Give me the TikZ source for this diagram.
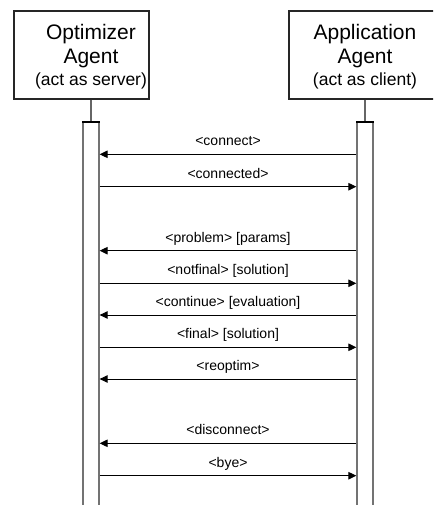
\documentclass[tikz,border=0pt]{standalone}
\usepackage{fontspec}
\setmainfont{Liberation Sans}
\usetikzlibrary{arrows.meta,positioning}

\begin{document}
\begin{tikzpicture}[x=1pt, y=-1pt, >={Triangle[length=8pt,width=7.5pt]},
  agent/.style={draw=black!85, line width=1.2pt, inner sep=0pt},
  agentname/.style={align=center, inner sep=0pt, font=\fontsize{21}{24}\selectfont},
  actbar/.style={draw=black!55, line width=1.3pt, inner sep=0pt, minimum width=16pt, minimum height=395pt, anchor=north},
  life/.style={draw=black!60, line width=1.4pt},
  msg/.style={->, line width=0.9pt},
  lbl/.style={midway, anchor=base, yshift=8.5pt, inner sep=0pt, font=\fontsize{14}{17}\selectfont}]
\useasboundingbox (0,0) rectangle (433,505);
\clip (0,0) rectangle (433,505);
% agent boxes
\node[agent, minimum width=135pt, minimum height=88pt] (optbox) at (81.5,55) {};
\node[agent, minimum width=171pt, minimum height=88pt] (appbox) at (374.5,55) {};
\node[agentname, anchor=north] (optname) at (91,24) {Optimizer\\Agent\\[-2.3pt]{\fontsize{17.5}{21}\selectfont (act as server)}};
\node[agentname, anchor=north] (appname) at (365,24) {Application\\Agent\\[-2.3pt]{\fontsize{17.5}{21}\selectfont (act as client)}};
% lifelines and activation bars
\node[actbar] (optbar) at (91,122) {};
\node[actbar] (appbar) at (365,122) {};
\draw[life] (optbox.south -| optbar) -- (optbar.north);
\draw[life] (appbox.south -| appbar) -- (appbar.north);
\draw[line width=1.3pt] (optbar.north west) -- (optbar.north east);
\draw[line width=1.3pt] (appbar.north west) -- (appbar.north east);
% messages client -> server
\foreach \y/\txt in {154.3/{<connect>}, 250.7/{<problem> [params]}, 315/{<continue> [evaluation]}, 379/{<reoptim>}, 443.3/{<disconnect>}}
  \draw[msg] (appbar.west |- 0,\y) -- node[lbl]{\txt} (optbar.east |- 0,\y);
% messages server -> client
\foreach \y/\txt in {186.7/{<connected>}, 283.3/{<notfinal> [solution]}, 347.3/{<final> [solution]}, 475.7/{<bye>}}
  \draw[msg] (optbar.east |- 0,\y) -- node[lbl]{\txt} (appbar.west |- 0,\y);
\end{tikzpicture}
\end{document}
